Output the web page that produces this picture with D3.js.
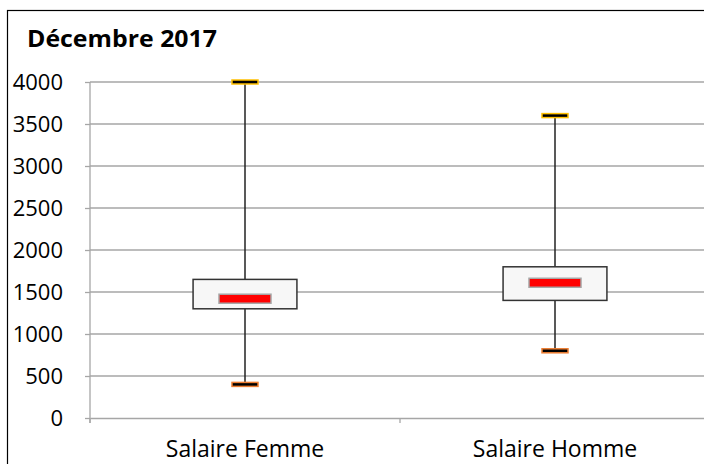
<!DOCTYPE html>
<html>
<head>
<meta charset="utf-8">
<script src="https://cdn.jsdelivr.net/npm/d3@7"></script>
<style>
  body { margin: 0; background: #fff; }
  text { font-family: "Open Sans", "Liberation Sans", sans-serif; }
</style>
</head>
<body>
<svg id="chart"></svg>
<script>
// data
let categories = ["Salaire Femme", "Salaire Homme"];
let minValues = [400, 800];
let q1Values = [1300, 1400];
let medianValues = [1420, 1610];
let q3Values = [1650, 1800];
let maxValues = [4000, 3600];
let yTicks = [0, 500, 1000, 1500, 2000, 2500, 3000, 3500, 4000];

let config = {
  svg: { width: 704, height: 464 },
  plot: { x: 90, y: 82, width: 620, height: 336 }
};

let svg = d3.select("svg#chart")
  .attr("width", config.svg.width)
  .attr("height", config.svg.height);

// outer chart frame (cropped on right and bottom)
svg.append("rect")
  .attr("x", 7.5)
  .attr("y", 10.5)
  .attr("width", 800)
  .attr("height", 600)
  .attr("fill", "none")
  .attr("stroke", "#000")
  .attr("stroke-width", 1.2);

svg.append("text")
  .text("Décembre 2017")
  .attr("x", 27)
  .attr("y", 47)
  .attr("font-size", "23px")
  .attr("font-weight", "bold")
  .attr("textLength", 190)
  .attr("lengthAdjust", "spacingAndGlyphs")
  .attr("fill", "#000");

let plot = svg.append("g")
  .attr("transform", translate(config.plot.x, config.plot.y));

let scale = {};
scale.x = d3.scaleBand()
  .domain(categories)
  .range([0, config.plot.width]);
scale.y = d3.scaleLinear()
  .domain([0, 4000])
  .range([config.plot.height, 0]);

// gridlines
plot.append("g")
  .selectAll("line")
  .data(yTicks.slice(1))
  .enter()
  .append("line")
  .attr("x1", 0)
  .attr("x2", config.plot.width)
  .attr("y1", d => scale.y(d))
  .attr("y2", d => scale.y(d))
  .attr("stroke", "#a6a6a6")
  .attr("stroke-width", 1.3);

// y axis
let axisY = d3.axisLeft(scale.y)
  .tickValues(yTicks)
  .tickFormat(d3.format("d"))
  .tickSize(5)
  .tickPadding(22)
  .tickSizeOuter(0);
let gy = plot.append("g").call(axisY);
gy.select(".domain").attr("stroke", "#a6a6a6").attr("stroke-width", 1.3)
  .attr("d", "M0,0V" + (config.plot.height + 5));
gy.selectAll(".tick line").attr("stroke", "#a6a6a6").attr("stroke-width", 1.3);
gy.selectAll(".tick text")
  .attr("font-size", "22px")
  .attr("fill", "#000")
  .attr("font-family", "'Open Sans', sans-serif");

// x axis
let axisX = d3.axisBottom(scale.x)
  .tickSize(0)
  .tickPadding(23)
  .tickSizeOuter(0);
let gx = plot.append("g")
  .attr("transform", translate(0, config.plot.height))
  .call(axisX);
gx.select(".domain").attr("stroke", "#a6a6a6").attr("stroke-width", 1.3);
gx.selectAll(".tick text")
  .attr("font-size", "23px")
  .attr("fill", "#000")
  .attr("font-family", "'Open Sans', sans-serif");
// category separator ticks
gx.append("g")
  .selectAll("line")
  .data([0, config.plot.width / 2])
  .enter()
  .append("line")
  .attr("x1", d => d)
  .attr("x2", d => d)
  .attr("y1", 0)
  .attr("y2", 5)
  .attr("stroke", "#a6a6a6")
  .attr("stroke-width", 1.3);

let data = categories.map((c, i) => ({
  cat: c, min: minValues[i], q1: q1Values[i], med: medianValues[i],
  q3: q3Values[i], max: maxValues[i]
}));

let boxW = scale.x.bandwidth() * 0.335;
let capW = 26;
let capH = 4;
let medW = 52;
let medH = 9;

let boxes = plot.selectAll("g.box")
  .data(data)
  .enter()
  .append("g")
  .attr("class", "box")
  .attr("transform", d => translate(scale.x(d.cat) + scale.x.bandwidth() / 2, 0));

// whiskers
boxes.append("line")
  .attr("x1", 0).attr("x2", 0)
  .attr("y1", d => scale.y(d.max))
  .attr("y2", d => scale.y(d.min))
  .attr("stroke", "#222")
  .attr("stroke-width", 1.5);

// box
boxes.append("rect")
  .attr("x", -boxW / 2)
  .attr("width", boxW)
  .attr("y", d => scale.y(d.q3))
  .attr("height", d => scale.y(d.q1) - scale.y(d.q3))
  .attr("fill", "#f7f7f7")
  .attr("stroke", "#333")
  .attr("stroke-width", 1.5);

// median
boxes.append("rect")
  .attr("x", -medW / 2)
  .attr("width", medW)
  .attr("y", d => scale.y(d.med) - medH / 2)
  .attr("height", medH)
  .attr("fill", "#ff0000")
  .attr("stroke", "#a6a6a6")
  .attr("stroke-width", 1.5);

// caps
boxes.append("rect")
  .attr("x", -capW / 2)
  .attr("width", capW)
  .attr("y", d => scale.y(d.max) - capH / 2)
  .attr("height", capH)
  .attr("fill", "#000")
  .attr("stroke", "#ffc000")
  .attr("stroke-width", 1.5);

boxes.append("rect")
  .attr("x", -capW / 2)
  .attr("width", capW)
  .attr("y", d => scale.y(d.min) - capH / 2)
  .attr("height", capH)
  .attr("fill", "#000")
  .attr("stroke", "#ed7d31")
  .attr("stroke-width", 1.5);

function translate(x, y) {
  return "translate(" + x + "," + y + ")";
}
</script>
</body>
</html>
